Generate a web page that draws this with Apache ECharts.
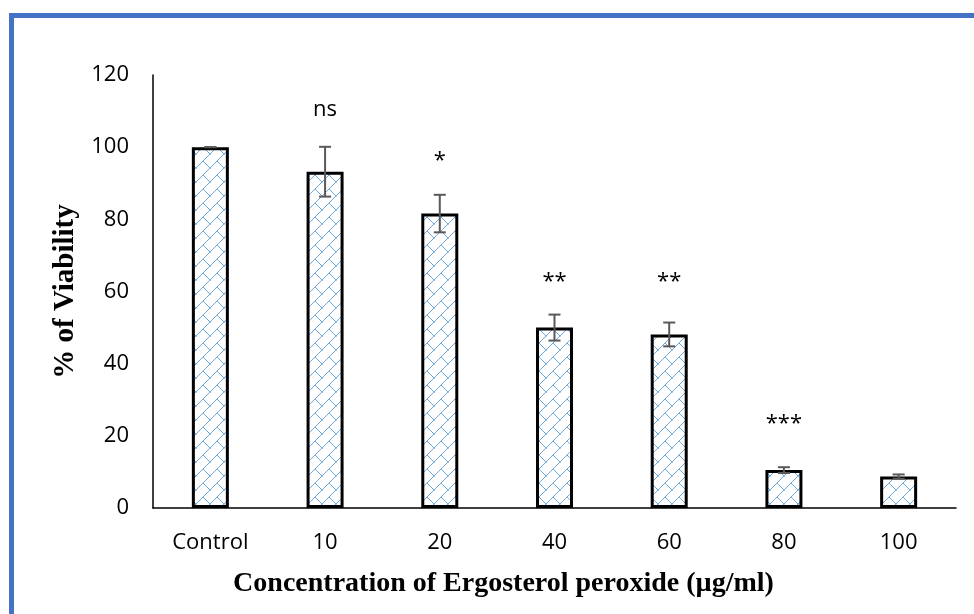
<!DOCTYPE html>
<html>
<head>
<meta charset="utf-8">
<script src="https://cdn.jsdelivr.net/npm/echarts@6/dist/echarts.min.js"></script>
<style>
html,body{margin:0;padding:0;background:#fff;}
#chart{width:974px;height:614px;}
</style>
</head>
<body>
<div id="chart"></div>
<script>
const categories = ['Control', '10', '20', '40', '60', '80', '100'];
const viability = [100, 93.2, 81.6, 50.0, 48.1, 10.5, 8.7];
const errors = [0, 6.9, 5.2, 3.6, 3.3, 0.8, 0.6];
const sigLabels = ['', 'ns', '*', '**', '**', '***', ''];
const sigHeights = [null, 110.5, 96.2, 62.6, 62.6, 23.3, null];
const yMin = 0, yMax = 120, yInterval = 20;

// diagonal brick pattern
function makePattern() {
  const s = 14;
  const c = document.createElement('canvas');
  c.width = s; c.height = s;
  const g = c.getContext('2d');
  g.fillStyle = '#ffffff';
  g.fillRect(0, 0, s, s);
  g.strokeStyle = '#6FA8DC';
  g.lineWidth = 1;
  g.beginPath();
  g.moveTo(-1, s + 1); g.lineTo(s + 1, -1);
  g.moveTo(s / 2, s / 2); g.lineTo(s + 1, s + 1);
  g.moveTo(-1, -1); g.lineTo(0.5, 0.5);
  g.stroke();
  return c;
}
const pattern = makePattern();

const chart = echarts.init(document.getElementById('chart'), null, {renderer: 'canvas'});
const tickFont = '"Open Sans", sans-serif';
const titleFont = '"Liberation Serif", "Times New Roman", serif';

chart.setOption({
  animation: false,
  backgroundColor: '#ffffff',
  graphic: [
    {type: 'line', shape: {x1: 9, y1: 15.5, x2: 974, y2: 15.5}, style: {stroke: '#4472C4', lineWidth: 5}, z: 100},
    {type: 'line', shape: {x1: 11.5, y1: 13, x2: 11.5, y2: 614}, style: {stroke: '#4472C4', lineWidth: 5}, z: 100}
  ],
  grid: {left: 153, right: 18, top: 75, bottom: 106, containLabel: false},
  xAxis: {
    type: 'category',
    data: categories,
    axisLine: {lineStyle: {color: '#000', width: 1.5}},
    axisTick: {show: false},
    axisLabel: {color: '#000', fontFamily: tickFont, fontSize: 22, margin: 24},
    name: 'Concentration of Ergosterol peroxide (\u00b5g/ml)',
    nameLocation: 'middle',
    nameGap: 62,
    nameTextStyle: {color: '#000', fontFamily: titleFont, fontWeight: 'bold', fontSize: 28, padding: [0, 102, 0, 0]}
  },
  yAxis: {
    type: 'value',
    min: yMin, max: yMax, interval: yInterval,
    axisLine: {show: true, lineStyle: {color: '#000', width: 1.5}},
    axisTick: {show: false},
    splitLine: {show: false},
    axisLabel: {color: '#000', fontFamily: tickFont, fontSize: 22, margin: 24},
    name: '% of Viability',
    nameLocation: 'middle',
    nameGap: 70,
    nameTextStyle: {color: '#000', fontFamily: titleFont, fontWeight: 'bold', fontSize: 29}
  },
  series: [
    {
      type: 'bar',
      data: viability,
      barWidth: 37,
      itemStyle: {color: {image: pattern, repeat: 'repeat'}, borderColor: '#000', borderWidth: 3},
      z: 2
    },
    {
      type: 'custom',
      data: categories.map((c, i) => [i, viability[i], errors[i]]),
      renderItem: function (params, api) {
        const x = api.value(0), v = api.value(1), e = api.value(2);
        const top = api.coord([x, v + e]);
        const bot = api.coord([x, v - e]);
        const hw = 6;
        const st = {stroke: '#595959', lineWidth: 2};
        return {
          type: 'group',
          children: [
            {type: 'line', shape: {x1: top[0], y1: top[1], x2: bot[0], y2: bot[1]}, style: st},
            {type: 'line', shape: {x1: top[0] - hw, y1: top[1], x2: top[0] + hw, y2: top[1]}, style: st},
            {type: 'line', shape: {x1: bot[0] - hw, y1: bot[1], x2: bot[0] + hw, y2: bot[1]}, style: st}
          ]
        };
      },
      z: 5
    },
    {
      type: 'custom',
      data: categories.map((c, i) => [i, sigHeights[i] == null ? 0 : sigHeights[i], sigLabels[i]]),
      renderItem: function (params, api) {
        const i = params.dataIndex;
        if (!sigLabels[i]) return null;
        const p = api.coord([i, sigHeights[i]]);
        return {
          type: 'text',
          x: p[0], y: p[1],
          style: {text: sigLabels[i], fill: '#000', font: '22px "Open Sans", sans-serif', align: 'center', verticalAlign: 'middle'}
        };
      },
      z: 6
    }
  ]
});
</script>
</body>
</html>
